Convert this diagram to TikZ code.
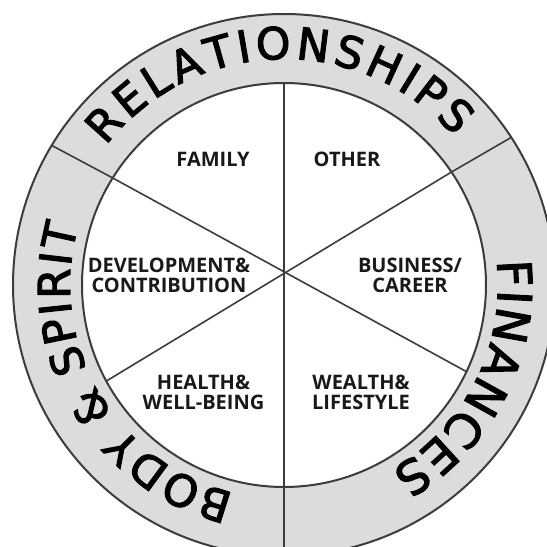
\documentclass[tikz,border=0pt]{standalone}
\usepackage{fontspec}
\setmainfont{Open Sans}
\newfontfamily\ringfont[FakeBold=2.5]{DejaVu Sans}
\usetikzlibrary{decorations.text}

\definecolor{ringgray}{HTML}{DCDCDC}
\definecolor{linegray}{HTML}{3C3C3C}

\tikzset{
	area/.style={font=\bfseries\fontsize{20}{20}\selectfont, align=center, text=black!90},
	rim/.style={linegray, line width=2pt},
	spoke/.style={linegray, line width=1.6pt},
	ringtext/.style={decorate, decoration={text along path, text align=fit to path, text color=black}},
}

\begin{document}
\begin{tikzpicture}[x=1pt, y=1pt]
	\useasboundingbox (-284,-262) rectangle (263,285);
	
	\fill[ringgray] (0,0) circle[radius=271];
	\fill[white] (0,0) circle[radius=202];
	\draw[rim] (0,0) circle[radius=271];
	\draw[rim] (0,0) circle[radius=202];
	
	% ends of the spokes on the inner circle
	\coordinate (top) at (90:202);
	\coordinate (ul) at (148:202);
	\coordinate (ur) at (34:202);
	\coordinate (ll) at (208.4:202);
	\coordinate (lr) at (-25.4:202);
	\coordinate (bot) at (270:271);
	% dividers of the ring
	\coordinate (ulout) at (149:271);
	\coordinate (urout) at (33:271);
	
	\path[spoke] (top) edge (bot);
	\path[spoke] (ul) edge (lr);
	\path[spoke] (ur) edge (ll);
	\path[spoke] (ul) edge (ulout);
	\path[spoke] (ur) edge (urout);
	
	\node[area] (family) at (-71, 125.5) {FAMILY};
	\node[area] (other) at (63, 125.5) {OTHER};
	\node[area] (devel) at (-115, 10) {DEVELOPMENT\&\\CONTRIBUTION};
	\node[area] (career) at (126, 10) {BUSINESS/\\CAREER};
	\node[area] (health) at (-80.5, -107) {HEALTH\&\\WELL-BEING};
	\node[area] (wealth) at (77, -107) {WEALTH\&\\LIFESTYLE};
	
	% names of the three sections, round the ring
	\path[ringtext, decoration={text={|\ringfont\fontsize{44}{44}\selectfont|RELATIONSHIPS}}]
		(142:226) arc[start angle=142, end angle=41, radius=226];
	\path[ringtext, decoration={text={|\ringfont\fontsize{47}{47}\selectfont|FINANCES}}]
		(6.5:214) arc[start angle=6.5, end angle=-60, radius=214];
	\path[ringtext, decoration={text={|\ringfont\fontsize{44}{44}\selectfont|BODY {\&} SPIRIT}}]
		(256.5:214) arc[start angle=256.5, end angle=164, radius=214];
	
\end{tikzpicture}
\end{document}
